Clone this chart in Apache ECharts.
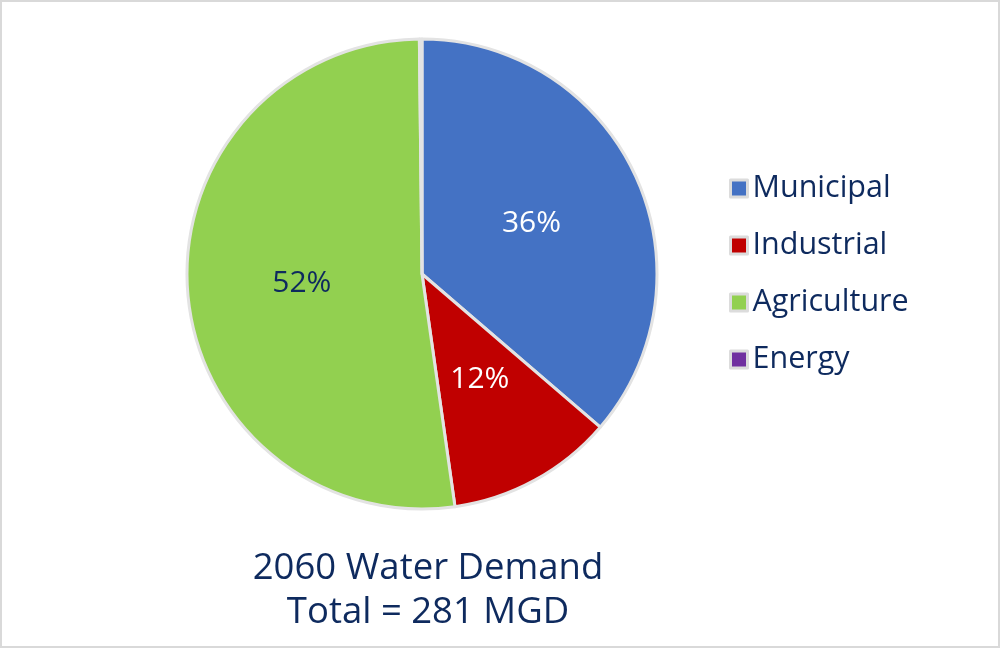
<!DOCTYPE html>
<html>
<head>
<meta charset="utf-8">
<script src="https://cdn.jsdelivr.net/npm/echarts@6/dist/echarts.min.js"></script>
<style>
html,body{margin:0;padding:0;background:#fff;}
#chart{width:1000px;height:648px;box-sizing:border-box;border:2px solid #d9d9d9;}
</style>
</head>
<body>
<div id="chart"></div>
<script>
const categories = ['Municipal', 'Industrial', 'Agriculture', 'Energy'];
const values = [102, 32.2, 146.3, 0.5];
const colors = ['#4472c4', '#c00000', '#92d050', '#7030a0'];
const labelColors = ['#ffffff', '#ffffff', '#0e2a5e', '#0e2a5e'];
const titleLines = ['2060 Water Demand', 'Total = 281 MGD'];

const chart = echarts.init(document.getElementById('chart'));
chart.setOption({
  animation: false,
  title: {
    text: titleLines.join('\n'),
    left: 421,
    textAlign: 'center',
    top: 540,
    textStyle: {
      fontFamily: 'Open Sans',
      fontWeight: 'normal',
      fontSize: 36.5,
      lineHeight: 43.5,
      color: '#0e2a5e'
    }
  },
  legend: {
    orient: 'vertical',
    left: 722,
    top: 166,
    icon: 'rect',
    itemWidth: 17,
    itemHeight: 17,
    itemGap: 26,
    itemStyle: { borderColor: '#dcdcdc', borderWidth: 3 },
    textStyle: {
      fontFamily: 'Open Sans',
      fontSize: 30.5,
      lineHeight: 30,
      color: '#0e2a5e'
    },
    data: categories
  },
  series: [{
    type: 'pie',
    center: [420, 272],
    radius: 235,
    startAngle: 90,
    clockwise: true,
    percentPrecision: 0,
    itemStyle: { borderColor: '#e3e3e3', borderWidth: 3 },
    label: {
      position: 'inside',
      fontFamily: 'Open Sans',
      fontSize: 30,
      formatter: '{d}%'
    },
    labelLine: { show: false },
    emphasis: { disabled: true },
    data: categories.map((c, i) => ({
      name: c,
      value: values[i],
      itemStyle: { color: colors[i] },
      label: { color: labelColors[i], show: i < 3 }
    }))
  }]
});
</script>
</body>
</html>
